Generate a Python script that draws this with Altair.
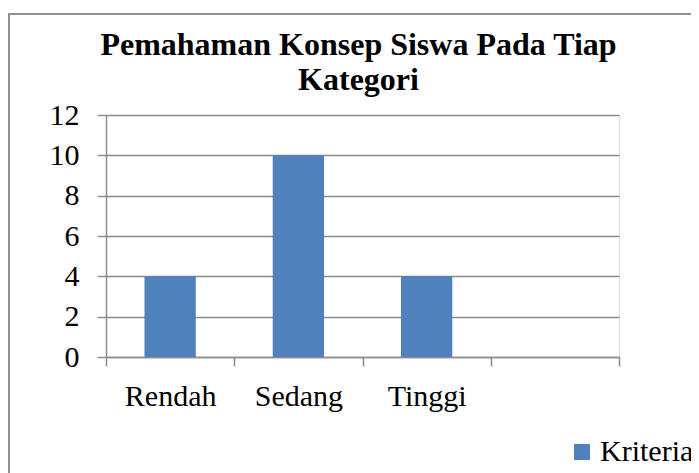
import altair as alt
import pandas as pd

kategori = ["Rendah", "Sedang", "Tinggi"]
nilai = [4, 10, 4]
slot_kategori = ["Rendah", "Sedang", "Tinggi", " "]
seri = ["Kriteria", "Kriteria", "Kriteria"]
y_ticks = [0, 2, 4, 6, 8, 10, 12]

df = pd.DataFrame({"Kategori": kategori, "Nilai": nilai, "Seri": seri})

FONT = "Liberation Serif"
GRID = "#8c8c8c"
BAR = "#4F81BD"

bars = alt.Chart(df).mark_bar(width=alt.RelativeBandSize(0.4)).encode(
    x=alt.X(
        "Kategori:N",
        sort=slot_kategori,
        scale=alt.Scale(domain=slot_kategori, paddingInner=0, paddingOuter=0),
        axis=alt.Axis(
            title=None,
            labelAngle=0,
            tickBand="extent",
            tickSize=9,
            tickColor=GRID,
            tickWidth=1.5,
            domainColor=GRID,
            domainWidth=1.5,
            labelFont=FONT,
            labelFontSize=30,
            labelColor="black",
            labelBaseline="alphabetic",
            labelPadding=39,
            grid=False,
        ),
    ),
    y=alt.Y(
        "Nilai:Q",
        scale=alt.Scale(domain=[0, 12], nice=False),
        axis=alt.Axis(
            title=None,
            values=y_ticks,
            tickSize=9,
            tickColor=GRID,
            tickWidth=1.5,
            domainColor=GRID,
            domainWidth=1.5,
            gridColor=GRID,
            gridWidth=1.5,
            labelFont=FONT,
            labelFontSize=30,
            labelColor="black",
            labelPadding=18,
        ),
    ),
    color=alt.Color(
        "Seri:N",
        scale=alt.Scale(domain=["Kriteria"], range=[BAR]),
        legend=alt.Legend(
            title=None,
            orient="none",
            legendX=461,
            legendY=322,
            symbolType="square",
            symbolSize=256,
            symbolStrokeWidth=0,
            labelFont=FONT,
            labelFontSize=30,
            labelColor="black",
            labelOffset=3,
            padding=0,
        ),
    ),
)

border = alt.Chart(alt.Data(values=[{"b": 1}])).mark_rect(
    fillOpacity=0, stroke="#909090", strokeWidth=2, clip=False
).encode(
    x=alt.value(-97), x2=alt.value(700), y=alt.value(-101), y2=alt.value(500)
)

chart = alt.layer(border, bars).properties(
    width=513,
    height=242,
    padding={"left": 98, "top": 107, "right": 72, "bottom": 116},
    autosize=alt.AutoSizeParams(type="none"),
    title=alt.TitleParams(
        text=["Pemahaman Konsep Siswa Pada Tiap", "Kategori"],
        font=FONT,
        fontSize=32,
        fontWeight="bold",
        color="black",
        lineHeight=35,
        anchor="middle",
        dx=-4,
        dy=88,
    ),
).configure_view(stroke=None).configure(background="white")

chart.save("out.html", embed_options={"renderer": "svg", "actions": False})
